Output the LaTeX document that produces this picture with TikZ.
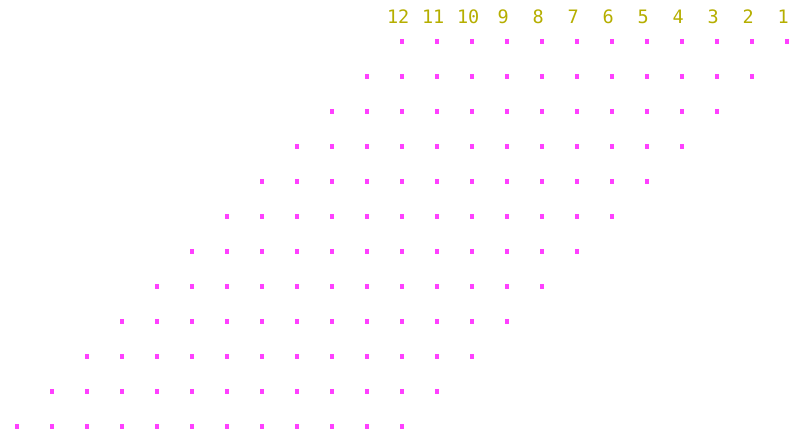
\documentclass[tikz,border=0pt]{standalone}
\usepackage{fontspec}
\newfontfamily\labfont{DejaVu Sans Mono}
\definecolor{dotc}{RGB}{255,64,255}
\definecolor{labc}{RGB}{181,174,0}
\begin{document}
\begin{tikzpicture}[x=1pt,y=-1pt,
  dotbox/.style={fill=dotc,draw=none,minimum size=4.4pt,inner sep=0pt},
  lab/.style={text=labc,font=\labfont\fontsize{18.5}{19}\selectfont,inner sep=0pt,anchor=base}]
\useasboundingbox (0,0) rectangle (800,445);
\foreach \k in {1,...,12}{
  \node[lab] (lab-\k) at ({786.7-35*(\k-1)-3.5},23.3) {\k};
}
\foreach \j in {0,...,11}{
  \foreach \c in {0,...,11}{
    \node[dotbox] (d-\j-\c) at ({401.7-35*\j+35*\c},{41.3+35*\j}) {};
  }
}
\end{tikzpicture}
\end{document}
